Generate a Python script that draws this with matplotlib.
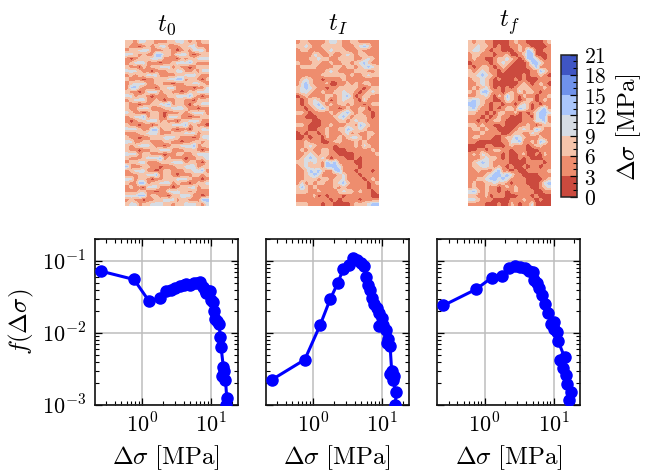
import numpy as np
import matplotlib
matplotlib.use('Agg')
import matplotlib.pyplot as plt
from matplotlib.colors import ListedColormap, BoundaryNorm
from matplotlib.ticker import LogLocator, NullFormatter, MultipleLocator, FuncFormatter

plt.rcParams['mathtext.fontset'] = 'cm'
plt.rcParams['font.family'] = ['DejaVu Serif']

# stress drop bins (MPa) and pdf
x0 = [0.253, 0.764, 1.26, 1.79, 2.24, 2.61, 3.02, 3.5, 4.09, 4.37, 5.0, 5.6, 6.25, 7.0, 7.6, 8.27, 8.9, 9.6,
      8.55, 10, 10.7, 10.9, 11.6, 12.2, 13.2, 13.5, 14, 15.1, 15.6, 14.3, 16.2, 16.9, 16.5, 16.5]
y0 = [0.0726, 0.0556, 0.0278, 0.0306, 0.0383, 0.040, 0.0417, 0.0445, 0.0469, 0.0484, 0.0469, 0.0495, 0.0495,
      0.0511, 0.0436, 0.040, 0.0387, 0.0379, 0.0359, 0.029, 0.0267, 0.0204, 0.0156, 0.0145, 0.0133, 0.0089,
      0.00632, 0.00333, 0.00294, 0.00255, 0.00225, 0.00125, 0.00101, 0.0008]
x1 = [0.253, 0.757, 1.26, 1.77, 2.29, 2.73, 3.3, 3.74, 4.28, 4.94, 5.53, 5.85, 6.32, 6.76, 7.23, 7.73, 8.36,
      9.04, 9.89, 9.14, 10.5, 11.3, 12.4, 11.7, 13.1, 13.8, 13.1, 15, 14.3, 16, 15.6, 15.6]
y1 = [0.00225, 0.00427, 0.0128, 0.0296, 0.05, 0.0774, 0.089, 0.110, 0.104, 0.0938, 0.0861, 0.0605, 0.0459,
      0.040, 0.0306, 0.0255, 0.0222, 0.019, 0.0161, 0.0126, 0.0131, 0.0111, 0.00826, 0.00726, 0.00653,
      0.00296, 0.00272, 0.0025, 0.00225, 0.0015, 0.001, 0.0008]
x2 = [0.253, 0.757, 1.26, 1.79, 2.29, 2.73, 3.3, 3.91, 4.47, 5.06, 5.23, 5.78, 6.25, 6.84, 7.48, 8.27, 10.1,
      9.04, 10.1, 11.3, 11.7, 14.5, 12.6, 13.7, 15, 15.6, 17.7, 16.5]
y2 = [0.0242, 0.0408, 0.0587, 0.0612, 0.0816, 0.0861, 0.0826, 0.0791, 0.0741, 0.0703, 0.0551, 0.0495, 0.0422,
      0.034, 0.025, 0.019, 0.0141, 0.0133, 0.0115, 0.0105, 0.00766, 0.00459, 0.00417, 0.00327, 0.00264,
      0.00198, 0.00152, 0.00119]

# stress maps, coarse estimate, one digit = colour level (0-3, 3-6, ...)
map_t0 = [
    "22133221112233212122", "21101212331112233111", "12233311122101213331", "33212114422133310122",
    "10122233311102122333", "12333111011233342111", "21102122333121101222", "33321101112233112133",
    "12122333111122333211", "21110112223344122102", "12333112211011223321", "14421110223311110113",
    "21101333122110122333", "33122101112233342101", "12333112101122110222", "21101122334122102233",
    "21133311122333211011", "32110122101112123331", "12334122103331101122", "10122333121102233311",
    "21101101222333412110", "33321144122101102233", "11122333111222333122", "21101122233321110133",
    "33112211122110112212", "21233321101223334122", "21101122333111222101", "33312211101122112333",
    "21112333412111011223", "12233111222333122102", "41112211011122333122", "12333110122111223341",
    "11122334122101112212", "33122101122233321101", "21144122333121101223", "12110333111012233122",
    "11122110113332212111", "33344122110223331101", "12110112233312211144", "23312233322122333213",
]
map_ti = [
    "12211112332112211111", "22321122222111234311", "12211112322211121111", "11113211211232122111",
    "11122322112222112321", "21112211211221234211", "12222111122122123432", "11111112321111222112",
    "11111122222212112322", "12321101111211111111", "13421112001121212211", "23432110112222210122",
    "23321121122322101232", "01211112212342012211", "10123212012322103111", "10123421212212110122",
    "11012342110121122011", "22101111212342121101", "11000111123421222101", "11110011112212322111",
    "22100011211122143211", "11100112112243232111", "01011012111231211221", "00101102112123321211",
    "11211100122111212111", "11232111101111213211", "12121122100011111121", "11232122110000111112",
    "12343231011100101111", "22323214341111001111", "12322214443111101111", "11243421144111011101",
    "11234311112311101111", "11222122122311110121", "13121221123421111012", "24212111121211111011",
    "22211211112322121101", "11112010111011111100", "11111111010111101111", "22211101100001222344",
]
map_tf = [
    "21221100001211000012", "22322101001121100001", "23321011000121430011", "12211101120012440001",
    "12110012232101443101", "01111012321000144311", "10122101210000124111", "21232110100000011431",
    "22343210000001011210", "12232101000101000111", "11232100000012101210", "12123101010122211121",
    "21244211012131221011", "11223102142102110112", "34321100132101220121", "44321011011023201011",
    "34211010122143201341", "22110102211201013443", "11101012110001103441", "11010122100001113341",
    "22121100100011210122", "12212110000123214311", "11121111001221132111", "12211100122432111211",
    "11000000113341121431", "00001100012111012211", "00110122110111000111", "12132111010012001021",
    "11123221010010100011", "12343211110000111101", "12233212101001011011", "11211134110100111112",
    "11112344343110000111", "11223443431111000012", "12112232210111000134", "12112110121211100123",
    "34212110101211110011", "22112011100011101000", "33211100001112110100", "11110001002101130000",
]

bounds = [0, 3, 6, 9, 12, 15, 18, 21]
cb_colors = ['#cb4a3e', '#ee8d6e', '#f5c4ab', '#d6dce4', '#aac6fb', '#6f92eb', '#3f55c4']
cmap = ListedColormap(cb_colors)
norm = BoundaryNorm(bounds, cmap.N)

W, H = 667, 475


def axes_px(left, top, right, bottom):
    return fig.add_axes([left / W, 1 - bottom / H, (right - left) / W, (bottom - top) / H])


fig = plt.figure(figsize=(W / 100, H / 100), dpi=100)

# top row
titles = [r'$t_0$', r'$t_I$', r'$t_f$']
maps = [map_t0, map_ti, map_tf]
lefts = [125, 296, 467.5]
for left, title, rows in zip(lefts, titles, maps):
    ax = axes_px(left, 40.5, left + 83, 206.5)
    levels = np.array([[int(c) for c in r] for r in rows]) * 3 + 1.5
    # interpolate before the colour levels so the patches get rounded edges
    im = ax.imshow(levels, cmap=cmap, norm=norm, aspect='auto', interpolation='bilinear',
                   interpolation_stage='data')
    ax.axis('off')
    ax.text(0.5, 1.02, title, transform=ax.transAxes, ha='center', va='bottom', fontsize=18)

# colorbar
sm = plt.cm.ScalarMappable(norm=norm, cmap=cmap)
cax = axes_px(561, 54.5, 577, 196.5)
cb = fig.colorbar(sm, cax=cax, ticks=bounds, spacing='proportional')
cb.ax.set_yticklabels(['$%d$' % b for b in bounds])
cb.ax.yaxis.set_minor_locator(MultipleLocator(1))
cb.ax.tick_params(which='major', direction='in', length=5, width=0.9, labelsize=15.5, pad=5)
cb.ax.tick_params(which='minor', direction='in', length=3, width=0.8)
cb.outline.set_linewidth(1.1)
cb.outline.set_edgecolor('#222222')
fig.text(629 / W, 1 - 127 / H, r'$\Delta\sigma\ \mathrm{[MPa]}$', rotation=90, ha='center', va='center', fontsize=18)

# bottom row
data = [(x0, y0), (x1, y1), (x2, y2)]
lefts = [94.5, 265.5, 437]
for i, (left, (x, y)) in enumerate(zip(lefts, data)):
    ax = axes_px(left, 239.5, left + 143, 405)
    ax.plot(x, y, '-o', color='#0000ff', lw=2.2, ms=8, zorder=3)
    ax.set_xscale('log')
    ax.set_yscale('log')
    ax.set_xlim(0.204, 24.2)
    ax.set_ylim(1e-3, 0.2)
    ax.grid(True, which='major', color='#bdbdbd', lw=1.1)
    ax.set_axisbelow(True)
    ax.xaxis.set_major_locator(LogLocator(base=10, numticks=10))
    ax.xaxis.set_minor_locator(LogLocator(base=10, subs=np.arange(2, 10), numticks=10))
    ax.yaxis.set_minor_locator(LogLocator(base=10, subs=np.arange(2, 10), numticks=10))
    pow_fmt = FuncFormatter(lambda v, pos: '$10^{%d}$' % round(np.log10(v)))
    ax.xaxis.set_major_formatter(pow_fmt)
    ax.yaxis.set_major_formatter(pow_fmt)
    ax.xaxis.set_minor_formatter(NullFormatter())
    ax.yaxis.set_minor_formatter(NullFormatter())
    ax.tick_params(which='major', direction='in', top=True, right=True, length=5, width=0.9, labelsize=16, pad=6)
    ax.tick_params(which='minor', direction='in', top=True, right=True, length=3, width=0.8)
    for s in ax.spines.values():
        s.set_linewidth(1.2)
        s.set_color('#111111')
    ax.set_xlabel(r'$\Delta\sigma\ \mathrm{[MPa]}$', fontsize=18, labelpad=4)
    if i == 0:
        ax.set_ylabel(r'$f(\Delta\sigma)$', fontsize=18, labelpad=4)
    else:
        ax.tick_params(labelleft=False)

fig.savefig('out.png', dpi=100)
